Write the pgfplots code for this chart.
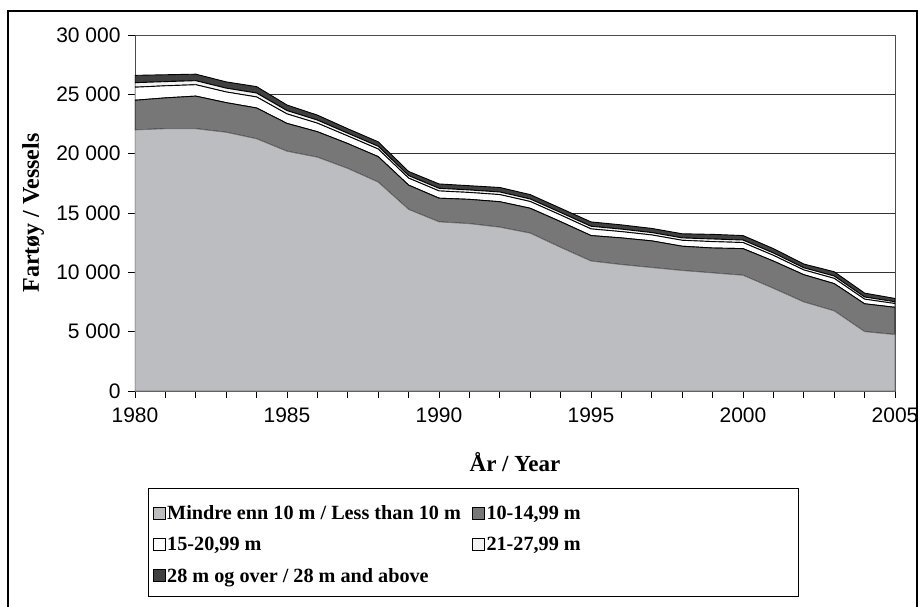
\documentclass[border=0pt]{standalone}
\usepackage{fontspec}
\setmainfont{Liberation Serif}
\newfontfamily\arial{Liberation Sans}
\usepackage{pgfplots}
\pgfplotsset{compat=1.18}
\usepackage{pgfplotstable}

\definecolor{lsmall}{HTML}{BCBDC0}
\definecolor{lmid}{HTML}{777777}
\definecolor{lwhite}{HTML}{FFFFFF}
\definecolor{llight}{HTML}{F3F3F3}
\definecolor{ldark}{HTML}{404040}

% year, <10 m, 10-14.99, 15-20.99, 21-27.99, 28+
\pgfplotstableread{
year a b c d e
1980 22000 2500 1100 380 620
1981 22100 2600 1020 350 580
1982 22100 2750 960 340 550
1983 21800 2500 900 320 530
1984 21250 2600 930 330 540
1985 20200 2350 800 280 470
1986 19700 2150 720 260 420
1987 18750 2100 640 230 380
1988 17600 2150 640 230 380
1989 15300 2050 590 210 350
1990 14250 2000 610 220 370
1991 14100 2050 580 210 360
1992 13800 2150 600 220 380
1993 13300 2100 570 210 370
1994 12100 2170 560 210 360
1995 10950 2150 560 220 370
1996 10650 2250 530 210 360
1997 10400 2250 500 200 350
1998 10150 2050 500 200 350
1999 9950 2100 540 220 390
2000 9750 2250 510 210 380
2001 8650 2300 480 200 370
2002 7500 2300 400 180 320
2003 6750 2300 440 200 360
2004 5000 2350 390 180 330
2005 4750 2300 320 150 280
}\vessels

\begin{document}
\begin{tikzpicture}[x=1pt,y=1pt]
\useasboundingbox (0,0) rectangle (919,606);
\draw[line width=2.5pt] (8,-5) -- (8,595) -- (917,595) -- (917,-5);
\draw[line width=0.8pt] (148,10) rectangle (798,118);
\begin{axis}[
    at={(135pt,215pt)}, anchor=south west,
    width=760pt, height=356pt, scale only axis,
    xmin=1980, xmax=2005, ymin=0, ymax=30000,
    scaled y ticks=false,
    xtick={1980,1985,1990,1995,2000,2005},
    xticklabels={1980,1985,1990,1995,2000,2005},
    minor xtick={1980,...,2005},
    ytick={0,5000,10000,15000,20000,25000,30000},
    yticklabels={0,5 000,10 000,15 000,20 000,25 000,30 000},
    xtick pos=bottom, ytick pos=left,
    tick align=outside, major tick length=7pt, minor tick length=7pt,
    tick style={black, line width=0.6pt},
    axis line style={black!70, line width=0.8pt},
    ymajorgrids, grid style={black!80, line width=0.7pt},
    tick label style={font=\arial\fontsize{21}{23}\selectfont},
    xticklabel style={yshift=-6pt},
    yticklabel style={xshift=-4pt},
    xlabel={År / Year}, ylabel={Fartøy / Vessels},
    label style={font=\bfseries\fontsize{23}{25}\selectfont},
    xlabel style={at={(axis description cs:0.5,-0.2)}, anchor=center},
    ylabel style={at={(axis description cs:-0.134,0.5)}, anchor=center, font=\bfseries\fontsize{24}{26}\selectfont},
    stack plots=y,
    area legend,
    legend columns=2,
    legend cell align=left,
    legend image code/.code={\draw[#1, draw=black, line width=0.6pt] (0pt,-6pt) rectangle (12pt,6pt);},
    legend style={at={(rel axis cs:0.019,-0.31)}, anchor=north west, draw=none, fill=none,
        font=\bfseries\fontsize{20.2}{22}\selectfont, row sep=12pt,
        /tikz/every even column/.append style={column sep=9pt},
        nodes={inner xsep=2pt}},
]
\addplot[fill=lsmall, draw=black!55, line width=0.8pt] table[x=year,y=a]{\vessels} \closedcycle;
\addplot[fill=lmid, draw=black, line width=0.9pt] table[x=year,y=b]{\vessels} \closedcycle;
\addplot[fill=lwhite, draw=black, line width=0.9pt] table[x=year,y=c]{\vessels} \closedcycle;
\addplot[fill=llight, draw=black, line width=0.9pt] table[x=year,y=d]{\vessels} \closedcycle;
\addplot[fill=ldark, draw=black, line width=0.9pt] table[x=year,y=e]{\vessels} \closedcycle;
\legend{{Mindre enn 10 m / Less than 10 m}, {10-14,99 m}, {15-20,99 m}, {21-27,99 m}, {28 m og over / 28 m and above}}
\end{axis}
\end{tikzpicture}
\end{document}
